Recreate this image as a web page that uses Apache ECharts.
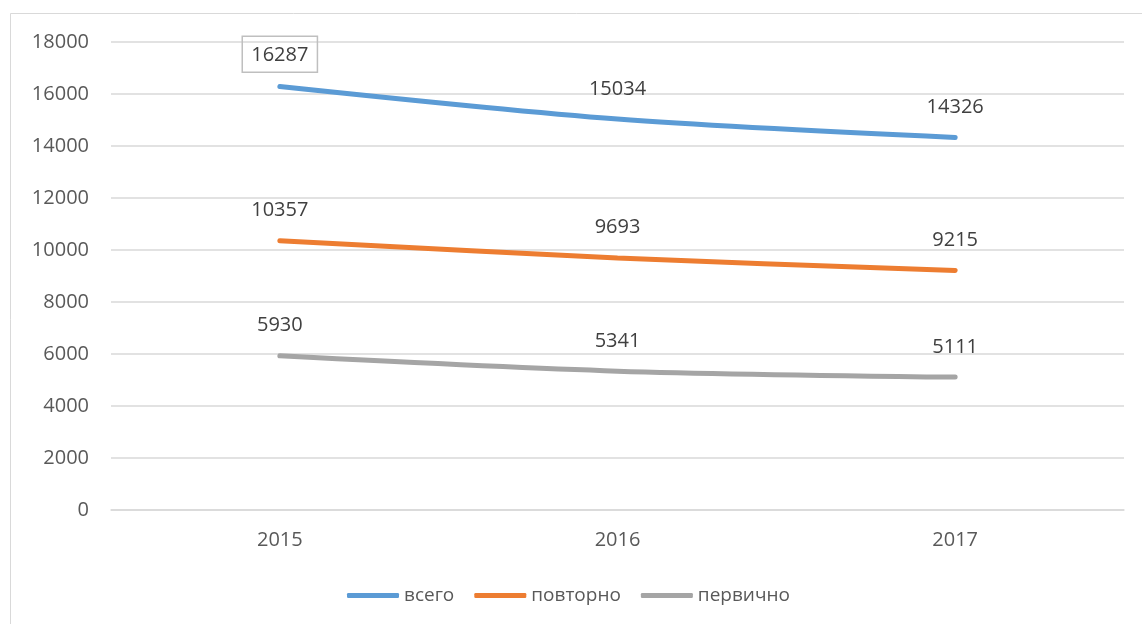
<!DOCTYPE html>
<html>
<head>
<meta charset="utf-8">
<script src="https://cdn.jsdelivr.net/npm/echarts@6/dist/echarts.min.js"></script>
<style>
  html, body { margin: 0; padding: 0; background: #fff; }
  #chart { width: 1142px; height: 624px; }
</style>
</head>
<body>
<div id="chart"></div>
<script>
// данные
var years = ["2015", "2016", "2017"];
var vsego = [16287, 15034, 14326];
var povtorno = [10357, 9693, 9215];
var pervichno = [5930, 5341, 5111];

var myChart = echarts.init(document.getElementById("chart"));

var font = "'Open Sans', 'Noto Sans', sans-serif";

function lineSeries(name, data, color) {
  return {
    name: name,
    type: "line",
    smooth: 0.3,
    data: data,
    showSymbol: true,
    symbol: "circle",
    symbolSize: 0.5,
    itemStyle: { color: color },
    color: color,
    lineStyle: { width: 5, color: color, cap: "round" },
    label: {
      show: true,
      position: "top",
      distance: 20,
      color: "#404040",
      fontSize: 20,
      fontFamily: font
    }
  };
}

var s1 = lineSeries("всего", vsego, "#5B9BD5");
// первая подпись выделена рамкой
s1.data = vsego.map(function (v, i) {
  if (i === 0) {
    return {
      value: v,
      label: {
        borderColor: "#bfbfbf",
        borderWidth: 1.5,
        padding: [9, 9, 7, 9],
        distance: 14
      }
    };
  }
  return v;
});

var option = {
  backgroundColor: "#fff",
  animation: false,
  // рамка области диаграммы
  graphic: [
    {
      type: "rect",
      shape: { x: 10.5, y: 13.5, width: 1150, height: 640 },
      style: { fill: "none", stroke: "#d9d9d9", lineWidth: 1 },
      silent: true
    }
  ],
  grid: {
    left: 111,
    right: 18,
    top: 42,
    bottom: 114
  },
  legend: {
    top: 581,
    left: 342,
    itemWidth: 52,
    itemHeight: 5,
    itemGap: 20,
    icon: "roundRect",
    textStyle: { color: "#595959", fontSize: 19, fontFamily: font },
    data: [
      { name: "всего", itemStyle: { color: "#5B9BD5" } },
      { name: "повторно", itemStyle: { color: "#ED7D31" } },
      { name: "первично", itemStyle: { color: "#A5A5A5" } }
    ]
  },
  xAxis: {
    type: "category",
    data: years,
    boundaryGap: true,
    axisLine: { lineStyle: { color: "#d9d9d9", width: 1.5 } },
    axisTick: { show: false },
    axisLabel: { color: "#595959", fontSize: 20, fontFamily: font, margin: 20 }
  },
  yAxis: {
    type: "value",
    min: 0,
    max: 18000,
    interval: 2000,
    axisLine: { show: false },
    axisTick: { show: false },
    axisLabel: {
      color: "#595959",
      fontSize: 20,
      fontFamily: font,
      margin: 22,
      formatter: function (v) { return String(v); }
    },
    splitLine: { lineStyle: { color: "#d9d9d9", width: 1.5 } }
  },
  series: [
    s1,
    lineSeries("повторно", povtorno, "#ED7D31"),
    lineSeries("первично", pervichno, "#A5A5A5")
  ]
};

myChart.setOption(option);
</script>
</body>
</html>
